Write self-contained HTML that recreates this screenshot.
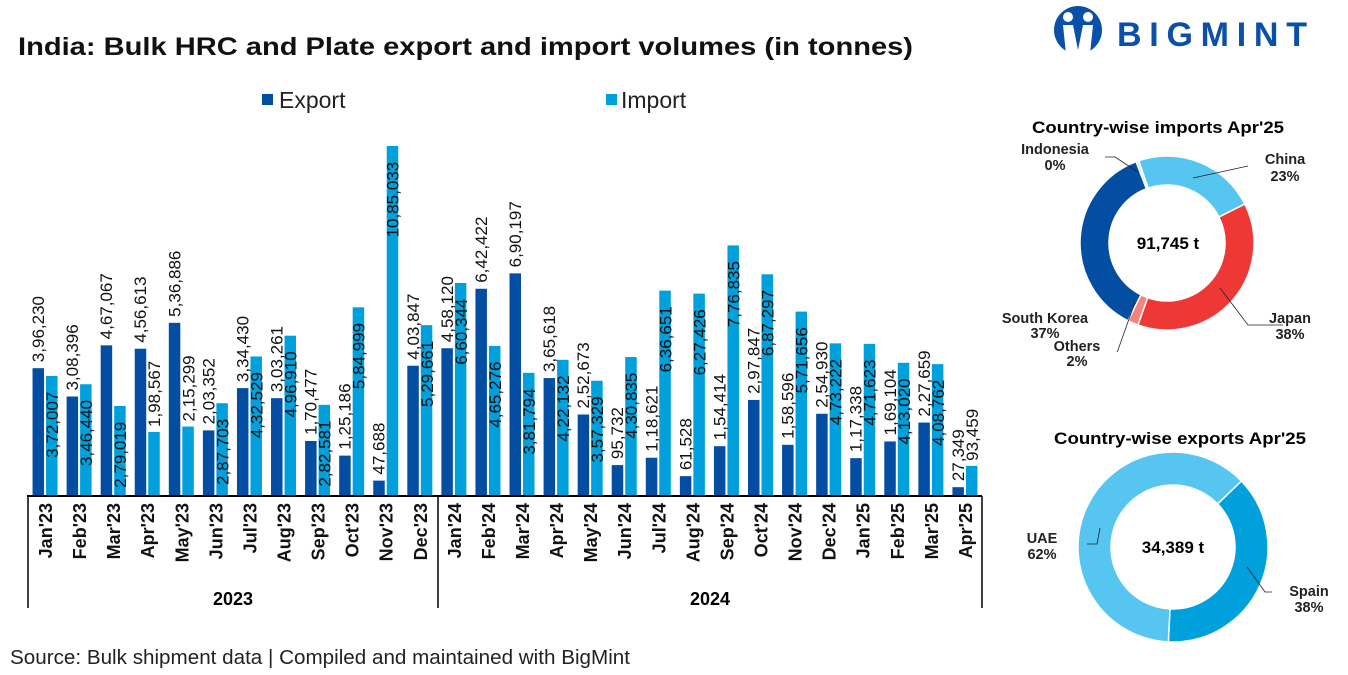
<!DOCTYPE html>
<html><head><meta charset="utf-8">
<style>
body{margin:0;background:#fff;}
svg{display:block;font-family:"Liberation Sans",Arial,sans-serif;}
</style></head>
<body>
<svg width="1348" height="675" viewBox="0 0 1348 675">
<text x="18" y="55" font-size="25" font-weight="bold" fill="#111" textLength="895" lengthAdjust="spacingAndGlyphs">India: Bulk HRC and Plate export and import volumes (in tonnes)</text>
<g>
  <circle cx="1078" cy="30" r="24" fill="#0a4fa8"/>
  <circle cx="1068" cy="17" r="5" fill="#fff"/><circle cx="1088" cy="17" r="5" fill="#fff"/>
  <path d="M1063 25 L1073 25 L1078 50 L1083 25 L1093 25 L1090 54 L1066 54 Z" fill="#fff"/>
  <text x="1117" y="46" font-size="34" font-weight="bold" fill="#0a4fa8" textLength="190" lengthAdjust="spacing">BIGMINT</text>
</g>
<g>
  <rect x="262" y="94" width="11" height="11" fill="#034ea2"/>
  <text x="279" y="108" font-size="23" fill="#222">Export</text>
  <rect x="606" y="94" width="11" height="11" fill="#00a0dc"/>
  <text x="621" y="108" font-size="23" fill="#222">Import</text>
</g>
<g id="bars"></g>
<g>
  <line x1="27" y1="496" x2="982" y2="496" stroke="#000" stroke-width="2"/>
  <line x1="28" y1="496" x2="28" y2="608" stroke="#000" stroke-width="1.5"/>
  <line x1="438" y1="496" x2="438" y2="608" stroke="#000" stroke-width="1.5"/>
  <line x1="982" y1="496" x2="982" y2="608" stroke="#000" stroke-width="1.5"/>
  <text x="233" y="605" font-size="18" font-weight="bold" text-anchor="middle">2023</text>
  <text x="710" y="605" font-size="18" font-weight="bold" text-anchor="middle">2024</text>
</g>
<g id="xlabels"></g>
<text x="10" y="664" font-size="20" fill="#222" textLength="620" lengthAdjust="spacingAndGlyphs">Source: Bulk shipment data | Compiled and maintained with BigMint</text>

<text x="1158" y="133" font-size="17" font-weight="bold" text-anchor="middle" textLength="252" lengthAdjust="spacingAndGlyphs">Country-wise imports Apr'25</text>
<g id="donut1"></g>
<text x="1168" y="249" font-size="17" font-weight="bold" text-anchor="middle">91,745 t</text>
<g font-size="14.5" font-weight="bold" fill="#222">
  <text x="1055" y="154" text-anchor="middle">Indonesia</text><text x="1055" y="170" text-anchor="middle">0%</text>
  <text x="1285" y="164" text-anchor="middle">China</text><text x="1285" y="181" text-anchor="middle">23%</text>
  <text x="1290" y="323" text-anchor="middle">Japan</text><text x="1290" y="339" text-anchor="middle">38%</text>
  <text x="1045" y="323" text-anchor="middle">South Korea</text><text x="1045" y="338" text-anchor="middle">37%</text>
  <text x="1077" y="351" text-anchor="middle">Others</text><text x="1077" y="366" text-anchor="middle">2%</text>
  <path d="M1105 157 L1115 157 L1138 172 M1248 166 L1193 178 M1283 325 L1248 325 L1220 288 M1117 352 L1118 350 L1135 302" stroke="#222" fill="none" stroke-width="0.8"/>
</g>
<text x="1180" y="444" font-size="17" font-weight="bold" text-anchor="middle" textLength="252" lengthAdjust="spacingAndGlyphs">Country-wise exports Apr'25</text>
<g id="donut2"></g>
<text x="1173" y="553" font-size="17" font-weight="bold" text-anchor="middle">34,389 t</text>
<g font-size="14.5" font-weight="bold" fill="#222">
  <text x="1042" y="543" text-anchor="middle">UAE</text><text x="1042" y="559" text-anchor="middle">62%</text>
  <text x="1309" y="596" text-anchor="middle">Spain</text><text x="1309" y="612" text-anchor="middle">38%</text>
  <path d="M1087 544 L1097 544 L1100 528 M1272 592 L1265 592 L1247 567" stroke="#222" fill="none" stroke-width="0.8"/>
</g>
<script>
const months=["Jan'23","Feb'23","Mar'23","Apr'23","May'23","Jun'23","Jul'23","Aug'23","Sep'23","Oct'23","Nov'23","Dec'23","Jan'24","Feb'24","Mar'24","Apr'24","May'24","Jun'24","Jul'24","Aug'24","Sep'24","Oct'24","Nov'24","Dec'24","Jan'25","Feb'25","Mar'25","Apr'25"];
const exportVals=[396230,308396,467067,456613,536886,203352,334430,303261,170477,125186,47688,403847,458120,642422,690197,365618,252673,95732,118621,61528,154414,297847,158596,254930,117338,169104,227659,27349];
const importVals=[372007,346440,279019,198567,215299,287703,432529,496910,282581,584999,1085033,529661,660344,465276,381794,422132,357329,430835,636651,627426,776835,687297,571656,473222,471623,413020,408762,93459];
const exportLabels=["3,96,230","3,08,396","4,67,067","4,56,613","5,36,886","2,03,352","3,34,430","3,03,261","1,70,477","1,25,186","47,688","4,03,847","4,58,120","6,42,422","6,90,197","3,65,618","2,52,673","95,732","1,18,621","61,528","1,54,414","2,97,847","1,58,596","2,54,930","1,17,338","1,69,104","2,27,659","27,349"];
const importLabels=["3,72,007","3,46,440","2,79,019","1,98,567","2,15,299","2,87,703","4,32,529","4,96,910","2,82,581","5,84,999","10,85,033","5,29,661","6,60,344","4,65,276","3,81,794","4,22,132","3,57,329","4,30,835","6,36,651","6,27,426","7,76,835","6,87,297","5,71,656","4,73,222","4,71,623","4,13,020","4,08,762","93,459"];
const importShares=[0.23,0.38,0.02,0.37,0.005];
const importNames=["china","japan","others","south-korea","indonesia"];
const exportShares=[0.38,0.62];
const exportNames=["spain","uae"];

const NS="http://www.w3.org/2000/svg";
const base=496, x0=28, cw=34.07, yMax=1085033, hMax=350;
const y=v=>base-v/yMax*hMax;
const xc=i=>x0+cw*(i+0.5);
function mk(tag,attrs,parent){const e=document.createElementNS(NS,tag);for(const k in attrs)e.setAttribute(k,attrs[k]);parent.appendChild(e);return e;}
const g=document.getElementById('bars');
const gx=document.getElementById('xlabels');
months.forEach((m,i)=>{
  const c=xc(i);
  const eb=mk('rect',{x:c-12.5,y:y(exportVals[i]),width:11.5,height:base-y(exportVals[i]),fill:'#034ea2'},g);
  
  
  const ib=mk('rect',{x:c+1,y:y(importVals[i]),width:11.5,height:base-y(importVals[i]),fill:'#00a0dc'},g);
  
  
  const el=mk('text',{transform:`translate(${c-1},${y(exportVals[i])-6}) rotate(-90)`,'font-size':17,fill:'#111'},g);
  el.textContent=exportLabels[i];
  
  
  const ih=base-y(importVals[i]);
  const lw=importLabels[i].length*9.6;
  let ty=ih>lw+8? y(importVals[i])+5+lw : y(importVals[i])-5;
  const il=mk('text',{transform:`translate(${c+13},${ty}) rotate(-90)`,'font-size':17,fill:'#111'},g);
  il.textContent=importLabels[i];
  
  
  const xl=mk('text',{transform:`translate(${c+7},${503}) rotate(-90)`,'font-size':18,'font-weight':'bold','text-anchor':'end',fill:'#111'},gx);
  xl.textContent=m;
  
  
});
function donut(gid,cx,cy,ro,ri,shares,names,colors,startDeg){
  const gg=document.getElementById(gid);
  const tot=shares.reduce((a,b)=>a+b,0);
  let a=startDeg;
  shares.forEach((s,i)=>{
    const a2=a+s/tot*360;
    const p=(r,d)=>{const t=(d-90)*Math.PI/180;return [cx+r*Math.cos(t),cy+r*Math.sin(t)];};
    const L=(a2-a)>180?1:0;
    const [x1,y1]=p(ro,a),[x2,y2]=p(ro,a2),[x3,y3]=p(ri,a2),[x4,y4]=p(ri,a);
    const sl=mk('path',{d:`M${x1} ${y1} A${ro} ${ro} 0 ${L} 1 ${x2} ${y2} L${x3} ${y3} A${ri} ${ri} 0 ${L} 0 ${x4} ${y4} Z`,fill:colors[i],stroke:'#fff','stroke-width':1.5},gg);
    
    
    a=a2;
  });
}
donut('donut1',1167,243,87,58,importShares,importNames,['#56c5f0','#ee3835','#f4837d','#034ea2','#cfeefb'],-19);
donut('donut2',1173,547,95,62,exportShares,exportNames,['#00a0dc','#56c5f0'],46);
</script>
</svg>
</body></html>
